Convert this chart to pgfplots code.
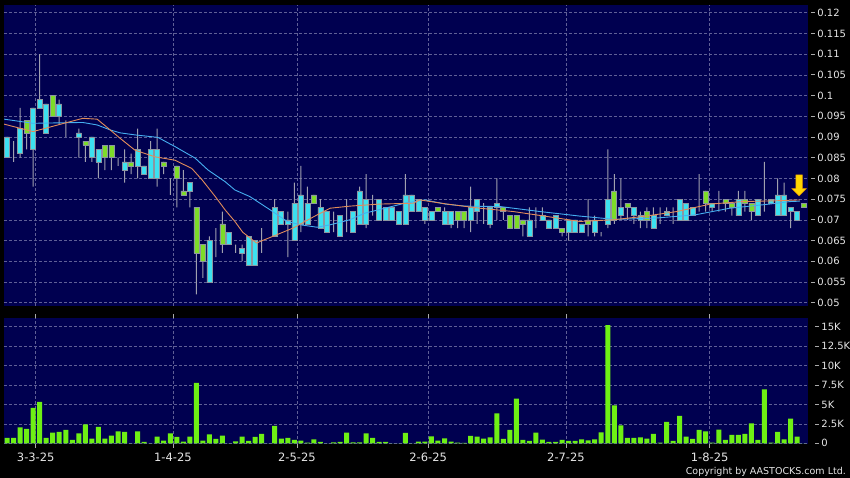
\documentclass[border=0pt]{standalone}
\usepackage{pgfplots}
\pgfplotsset{compat=1.18}
\usepackage{pgfplotstable}
\usepackage{fontspec}
\setmainfont{DejaVu Sans}
\usetikzlibrary{shapes.arrows}

\definecolor{navy}{RGB}{0,0,80}
\definecolor{gridc}{RGB}{95,95,150}
\definecolor{cyanc}{RGB}{60,225,240}
\definecolor{greenc}{RGB}{125,220,40}
\definecolor{bordc}{RGB}{140,150,160}
\definecolor{wickc}{RGB}{160,160,175}
\definecolor{volc}{RGB}{110,240,20}
\definecolor{maor}{RGB}{225,140,90}
\definecolor{mabl}{RGB}{70,175,240}
\definecolor{labelc}{RGB}{230,230,230}
\definecolor{tickc}{RGB}{170,170,170}
\definecolor{arrowy}{RGB}{255,215,0}
\definecolor{arrowo}{RGB}{230,150,0}

\newcommand{\tl}[1]{\textnormal{\textcolor{tickc}{\rule[0.33em]{4bp}{0.7bp}}\hspace{2.5bp}#1}}

\pgfplotstableread{
i lo hi bl bh t
0 0.085 0.090 0.085 0.090 0
1 0.084 0.089 0.087 0.087 2
2 0.085 0.097 0.086 0.092 0
3 0.087 0.094 0.091 0.094 1
4 0.078 0.097 0.087 0.097 0
5 0.097 0.110 0.097 0.099 0
6 0.091 0.098 0.091 0.098 0
7 0.095 0.100 0.095 0.100 1
8 0.093 0.099 0.095 0.098 0
9 0.090 0.094 0.092 0.092 2
10 0.092 0.092 0.092 0.092 2
11 0.085 0.092 0.090 0.091 0
12 0.084 0.089 0.088 0.089 1
13 0.084 0.090 0.085 0.090 0
14 0.080 0.087 0.084 0.087 0
15 0.082 0.088 0.085 0.088 1
16 0.082 0.088 0.085 0.088 1
17 0.083 0.085 0.085 0.085 2
18 0.079 0.087 0.082 0.084 0
19 0.081 0.086 0.083 0.084 1
20 0.080 0.092 0.083 0.087 0
21 0.081 0.083 0.081 0.083 0
22 0.080 0.089 0.080 0.087 0
23 0.078 0.092 0.080 0.087 0
24 0.081 0.084 0.083 0.084 1
25 0.076 0.080 0.080 0.080 2
26 0.073 0.083 0.080 0.083 1
27 0.076 0.082 0.076 0.077 1
28 0.073 0.079 0.077 0.079 0
29 0.052 0.073 0.062 0.073 1
30 0.056 0.064 0.060 0.064 1
31 0.055 0.066 0.055 0.065 0
32 0.061 0.068 0.068 0.068 2
33 0.062 0.072 0.064 0.069 1
34 0.064 0.067 0.064 0.067 0
35 0.062 0.064 0.064 0.064 2
36 0.060 0.064 0.062 0.063 0
37 0.059 0.066 0.059 0.066 0
38 0.059 0.065 0.059 0.065 0
39 0.062 0.068 0.066 0.066 2
40 0.066 0.066 0.066 0.066 2
41 0.066 0.075 0.066 0.073 0
42 0.069 0.072 0.069 0.072 0
43 0.061 0.072 0.069 0.070 0
44 0.065 0.079 0.065 0.074 0
45 0.067 0.083 0.069 0.076 0
46 0.069 0.078 0.069 0.074 0
47 0.074 0.076 0.074 0.076 1
48 0.068 0.075 0.068 0.073 0
49 0.067 0.072 0.067 0.072 0
50 0.067 0.072 0.072 0.072 2
51 0.066 0.071 0.066 0.071 0
52 0.067 0.075 0.072 0.072 2
53 0.067 0.072 0.067 0.072 0
54 0.069 0.078 0.069 0.077 0
55 0.068 0.081 0.069 0.075 0
56 0.071 0.076 0.076 0.076 2
57 0.070 0.075 0.070 0.075 0
58 0.070 0.073 0.070 0.073 0
59 0.070 0.073 0.070 0.073 0
60 0.069 0.072 0.069 0.072 0
61 0.069 0.081 0.069 0.076 0
62 0.072 0.076 0.072 0.076 0
63 0.072 0.075 0.072 0.075 0
64 0.069 0.073 0.070 0.073 0
65 0.070 0.072 0.070 0.072 0
66 0.072 0.073 0.072 0.073 1
67 0.069 0.073 0.069 0.072 0
68 0.068 0.072 0.069 0.072 0
69 0.068 0.072 0.070 0.072 1
70 0.068 0.072 0.070 0.072 1
71 0.067 0.078 0.070 0.073 0
72 0.069 0.075 0.072 0.075 0
73 0.069 0.074 0.072 0.072 2
74 0.068 0.073 0.069 0.073 0
75 0.070 0.080 0.073 0.074 0
76 0.070 0.073 0.072 0.073 1
77 0.068 0.071 0.068 0.071 1
78 0.068 0.071 0.068 0.071 1
79 0.066 0.070 0.069 0.070 1
80 0.066 0.073 0.066 0.070 0
81 0.068 0.073 0.072 0.072 2
82 0.070 0.073 0.070 0.071 0
83 0.068 0.070 0.068 0.070 0
84 0.068 0.071 0.068 0.071 0
85 0.066 0.068 0.067 0.068 1
86 0.065 0.070 0.067 0.070 0
87 0.067 0.070 0.067 0.070 0
88 0.067 0.069 0.067 0.069 0
89 0.066 0.075 0.069 0.070 1
90 0.066 0.071 0.067 0.070 0
91 0.066 0.067 0.067 0.067 2
92 0.068 0.087 0.069 0.075 0
93 0.069 0.081 0.070 0.077 1
94 0.070 0.080 0.071 0.073 0
95 0.070 0.074 0.073 0.074 1
96 0.069 0.073 0.071 0.073 0
97 0.068 0.072 0.070 0.071 0
98 0.068 0.073 0.070 0.072 1
99 0.068 0.073 0.068 0.071 0
100 0.069 0.073 0.071 0.071 2
101 0.071 0.073 0.071 0.072 0
102 0.069 0.073 0.073 0.073 2
103 0.070 0.075 0.070 0.075 0
104 0.070 0.074 0.070 0.074 0
105 0.071 0.073 0.071 0.073 0
106 0.072 0.081 0.073 0.073 2
107 0.072 0.077 0.074 0.077 1
108 0.072 0.074 0.073 0.074 0
109 0.072 0.077 0.077 0.077 2
110 0.072 0.075 0.074 0.075 1
111 0.071 0.074 0.073 0.074 1
112 0.071 0.077 0.071 0.075 0
113 0.072 0.077 0.074 0.075 1
114 0.070 0.074 0.072 0.074 1
115 0.071 0.075 0.071 0.075 0
116 0.072 0.084 0.075 0.075 2
117 0.074 0.075 0.074 0.075 0
118 0.071 0.080 0.071 0.076 0
119 0.071 0.079 0.071 0.076 0
120 0.068 0.073 0.072 0.073 0
121 0.070 0.072 0.070 0.072 0
122 0.073 0.074 0.073 0.074 1
}\candles

\pgfplotstableread{
i v
0 0.69
1 0.69
2 2.06
3 1.85
4 4.55
5 5.32
6 0.69
7 1.37
8 1.46
9 1.72
10 0.43
11 1.29
12 2.45
13 0.60
14 2.10
15 0.60
16 0.99
17 1.55
18 1.46
19 0
20 1.55
21 0.17
22 0
23 0.86
24 0.34
25 1.29
26 0.82
27 0.21
28 0.86
29 7.77
30 0.34
31 1.16
32 0.56
33 0.99
34 0
35 0.26
36 0.86
37 0.30
38 0.82
39 1.20
40 0
41 2.23
42 0.60
43 0.69
44 0.43
45 0.34
46 0.09
47 0.52
48 0.17
49 0
50 0.13
51 0.17
52 1.37
53 0.13
54 0.13
55 1.29
56 0.69
57 0.17
58 0.17
59 0
60 0
61 1.33
62 0
63 0.21
64 0.21
65 0.90
66 0.34
67 0.64
68 0.21
69 0.09
70 0.05
71 0.94
72 0.86
73 0.60
74 0.77
75 3.86
76 0.56
77 1.72
78 5.75
79 0.43
80 0.30
81 1.37
82 0.47
83 0.17
84 0.17
85 0.43
86 0.30
87 0.30
88 0.52
89 0.39
90 0.52
91 1.42
92 15.2
93 4.89
94 2.32
95 0.69
96 0.69
97 0.77
98 0.60
99 1.20
100 0.09
101 2.75
102 0.30
103 3.52
104 0.86
105 0.56
106 1.72
107 1.55
108 0.09
109 1.76
110 0.43
111 1.07
112 1.07
113 1.20
114 2.58
115 0.43
116 6.95
117 0.09
118 1.46
119 0.52
120 3.18
121 0.86
122 0
}\volumes

\pgfplotsset{
  panel/.style={scale only axis, width=803.7bp, xmin=-0.46, xmax=122.62, anchor=south west},
  pricepanel/.style={panel, at={(4bp,172bp)}, height=301bp, ymin=0.04919, ymax=0.12186},
  volpanel/.style={panel, at={(4bp,34bp)}, height=125.7bp, ymin=-0.09, ymax=16.09},
}

\begin{document}
\begin{tikzpicture}
\useasboundingbox (0,0) rectangle (850bp,478bp);
\fill[black] (0,0) rectangle (850bp,478bp);

% price background, grid, labels
\begin{axis}[pricepanel,
  axis background/.style={fill=navy},
  axis line style={draw=none},
  ytick={0.05,0.055,0.06,0.065,0.07,0.075,0.08,0.085,0.09,0.095,0.1,0.105,0.11,0.115,0.12},
  yticklabels={\tl{0.05},\tl{0.055},\tl{0.06},\tl{0.065},\tl{0.07},\tl{0.075},\tl{0.08},\tl{0.085},\tl{0.09},\tl{0.095},\tl{0.1},\tl{0.105},\tl{0.11},\tl{0.115},\tl{0.12}},
  yticklabel pos=right,
  yticklabel style={anchor=west, inner sep=0pt, xshift=3bp, font=\fontsize{10bp}{12bp}\selectfont, text=labelc},
  xtick={4.4,25.4,44.4,64.5,85.6,107.6},
  xticklabel={},
  tick style={draw=none},
  grid=major,
  grid style={gridc, line width=0.6bp, dash pattern=on 3bp off 2bp},
]
\addplot[draw=none] coordinates {(0,0.06)};
\end{axis}

% wicks
\begin{axis}[pricepanel, hide axis, ybar stacked, bar width=1bp]
\addplot[draw=none, fill=none] table[x=i, y=lo] \candles;
\addplot[draw=none, fill=wickc] table[x=i, y expr={\thisrow{hi}-\thisrow{lo}}] \candles;
\end{axis}

% bodies
\begin{axis}[pricepanel, hide axis, ybar stacked, bar width=5bp]
\addplot[draw=none, fill=none] table[x=i, y=bl] \candles;
\addplot[fill=cyanc, draw=bordc, line width=0.6bp] table[x=i, y expr={(\thisrow{t}==0)*(\thisrow{bh}-\thisrow{bl})}] \candles;
\addplot[fill=greenc, draw=bordc, line width=0.6bp] table[x=i, y expr={(\thisrow{t}==1)*(\thisrow{bh}-\thisrow{bl})}] \candles;
\end{axis}

% moving averages and arrow
\begin{axis}[pricepanel, hide axis]
\addplot[mabl, line width=0.9bp] coordinates {
(-0.46,0.0943) (3.98,0.0933) (11.6,0.0935) (13.8,0.0929) (15.8,0.0917) (17.3,0.0910)
(19.6,0.0905) (23.1,0.0899) (25.7,0.0877) (28.8,0.0849) (30.8,0.0820) (33.4,0.0792)
(34.9,0.0772) (37.2,0.0756) (40.3,0.0724) (42.9,0.0696) (44.9,0.0688) (47.5,0.0682)
(49.5,0.0688) (52.5,0.0700) (54.8,0.0716) (57.9,0.0728) (60.9,0.0740) (64.0,0.0748)
(67.1,0.0738) (70.1,0.0733) (75.5,0.0732) (81.6,0.0720) (87.7,0.0709) (93.1,0.0701)
(99.2,0.0704) (105.4,0.0712) (110.7,0.0728) (116.8,0.0738) (119.9,0.0744) (121.4,0.0745)};
\addplot[maor, line width=0.9bp] coordinates {
(-0.46,0.0931) (3.98,0.0913) (11.6,0.0945) (13.8,0.0943) (15.8,0.0917) (17.3,0.0897)
(19.6,0.0868) (22.7,0.0852) (25.7,0.0844) (28.3,0.0824) (29.9,0.0796) (31.9,0.0756)
(33.4,0.0724) (34.9,0.0696) (36.1,0.0670) (38.2,0.0644) (40.7,0.0660) (43.8,0.0680)
(47.5,0.0712) (49.5,0.0728) (52.5,0.0733) (57.1,0.0738) (62.2,0.0740) (63.2,0.0748)
(67.4,0.0738) (72.4,0.0728) (77.5,0.0720) (82.7,0.0708) (87.7,0.0696) (92.8,0.0700)
(97.4,0.0708) (102.6,0.0720) (107.7,0.0738) (112.7,0.0744) (117.9,0.0746) (121.4,0.0748)};
\node[single arrow, fill=arrowy, draw=arrowo, line width=0.5bp, minimum height=21bp,
  minimum width=0bp, single arrow head extend=4bp, inner sep=3bp,
  shape border rotate=270, anchor=tip] at (axis cs:121.3,0.0757) {};
\end{axis}

% volume
\begin{axis}[volpanel,
  axis background/.style={fill=navy},
  axis line style={draw=none},
  ybar, bar width=5bp,
  ytick={0,2.5,5,7.5,10,12.5,15},
  yticklabels={\tl{0},\tl{2.5K},\tl{5K},\tl{7.5K},\tl{10K},\tl{12.5K},\tl{15K}},
  yticklabel pos=right,
  yticklabel style={anchor=west, inner sep=0pt, xshift=3bp, font=\fontsize{10bp}{12bp}\selectfont, text=labelc},
  xtick={4.4,25.4,44.4,64.5,85.6,107.6},
  xticklabels={3-3-25,1-4-25,2-5-25,2-6-25,2-7-25,1-8-25},
  xticklabel style={anchor=north, inner sep=0pt, yshift=-5bp, font=\fontsize{11.5bp}{13bp}\selectfont, text=labelc},
  tick align=outside,
  major tick length=4bp,
  xtick style={draw=tickc, line width=0.6bp},
  ytick style={draw=none},
  grid=major,
  grid style={gridc, line width=0.6bp, dash pattern=on 3bp off 2bp},
]
\addplot[fill=volc, draw=none] table[x=i, y=v] \volumes;
\end{axis}

\node[anchor=east, inner sep=0pt, font=\fontsize{9.5bp}{11bp}\selectfont, text=labelc] at (846bp,6.5bp) {Copyright by AASTOCKS.com Ltd.};
\end{tikzpicture}
\end{document}
